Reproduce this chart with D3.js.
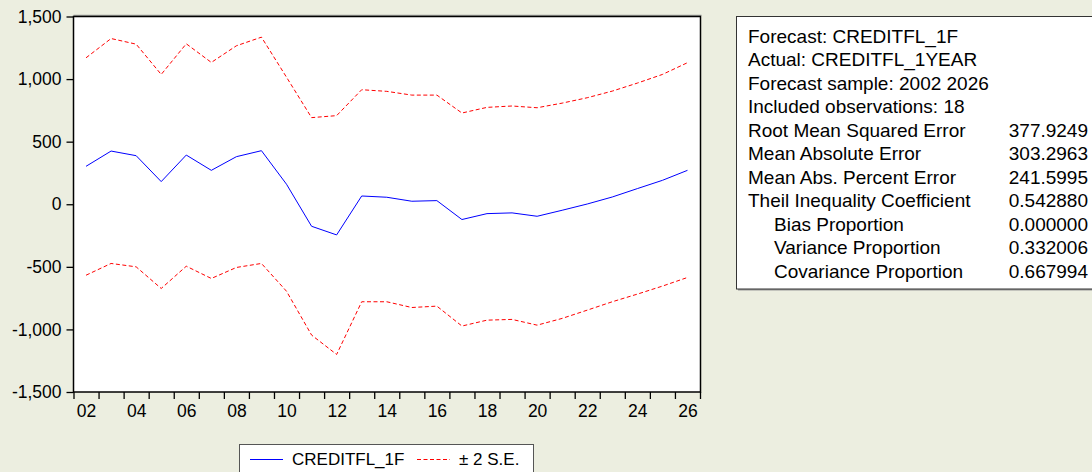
<!DOCTYPE html>
<html>
<head>
<meta charset="utf-8">
<script src="https://cdn.jsdelivr.net/npm/d3@7"></script>
<style>
  html, body { margin: 0; padding: 0; background: #ECEEE0; }
  svg { display: block; }
  text { font-family: "Liberation Sans", Arial, sans-serif; fill: #000; }
</style>
</head>
<body>
<svg id="chart" width="1092" height="472"></svg>
<script>
// ---- data ----
const years = d3.range(2002, 2027);
const forecast = [303, 425, 388, 181, 393, 271, 380, 428, 160, -176, -245, 66, 56, 24, 29, -122, -75, -69, -96, -48, 2, 58, 125, 191, 271];
const upperBand = [1170, 1324, 1279, 1037, 1282, 1133, 1266, 1335, 1015, 692, 708, 915, 902, 872, 872, 729, 774, 785, 771, 808, 851, 904, 968, 1037, 1131];
const lowerBand = [-567, -473, -500, -673, -495, -593, -505, -473, -695, -1045, -1200, -779, -779, -825, -814, -973, -926, -920, -966, -912, -846, -779, -718, -654, -585];
const yTicks = [-1500, -1000, -500, 0, 500, 1000, 1500];
const xLabelYears = d3.range(2002, 2027, 2);
const statLabels = ["Forecast: CREDITFL_1F", "Actual: CREDITFL_1YEAR", "Forecast sample: 2002 2026", "Included observations: 18",
  "Root Mean Squared Error", "Mean Absolute Error", "Mean Abs. Percent Error", "Theil Inequality Coefficient",
  "Bias Proportion", "Variance Proportion", "Covariance Proportion"];
const statValues = ["", "", "", "", "377.9249", "303.2963", "241.5995", "0.542880", "0.000000", "0.332006", "0.667994"];
const statIndent = [false, false, false, false, false, false, false, false, true, true, true];
const legendItems = [{ label: "CREDITFL_1F", color: "#0000FF", dash: null }, { label: "± 2 S.E.", color: "#FF0000", dash: "4,2.5" }];

// ---- layout ----
const svg = d3.select("#chart");
const L = 73.5, R = 700.5, T = 16.5, B = 392;

const x = d3.scaleLinear().domain([2001.5, 2026.5]).range([L, R - 0.5]);
const y = d3.scaleLinear().domain([-1500, 1500]).range([B, T]);

// plot background
svg.append("rect").attr("x", L).attr("y", T).attr("width", R - L).attr("height", B - T).attr("fill", "#fff");
svg.append("line").attr("x1", L).attr("x2", R + 1).attr("y1", T - 1.2).attr("y2", T - 1.2).attr("stroke", "#888").attr("stroke-width", 1);

// lines
const line = d3.line().x((d, i) => x(years[i])).y(d => y(d));
svg.append("path").datum(upperBand).attr("d", line).attr("fill", "none").attr("stroke", "#FF0000").attr("stroke-width", 1).attr("stroke-dasharray", "4,2.5");
svg.append("path").datum(lowerBand).attr("d", line).attr("fill", "none").attr("stroke", "#FF0000").attr("stroke-width", 1).attr("stroke-dasharray", "4,2.5");
svg.append("path").datum(forecast).attr("d", line).attr("fill", "none").attr("stroke", "#0000FF").attr("stroke-width", 1);

// frame
svg.append("rect").attr("x", L).attr("y", T).attr("width", R - L).attr("height", B - T)
  .attr("fill", "none").attr("stroke", "#000").attr("stroke-width", 1.5);

// y axis
const fmt = d3.format(",");
const yAxis = d3.axisLeft(y).tickValues(yTicks).tickSize(7).tickPadding(5).tickFormat(d => fmt(d).replace("\u2212", "-"));
const gy = svg.append("g").attr("transform", `translate(${L},0)`).call(yAxis);
gy.select(".domain").remove();
gy.selectAll(".tick line").attr("stroke", "#000").attr("stroke-width", 1.3);
gy.selectAll(".tick text").attr("font-size", "17.5px").attr("font-family", "Liberation Sans, Arial, sans-serif").attr("fill", "#000");

// x axis: ticks at year boundaries, labels centered in even years
const boundaries = d3.range(2001.5, 2027.5, 1);
const xAxisTicks = d3.axisBottom(x).tickValues(boundaries).tickSize(7).tickFormat("");
const gx = svg.append("g").attr("transform", `translate(0,${B})`).call(xAxisTicks);
gx.select(".domain").remove();
gx.selectAll(".tick line").attr("stroke", "#000").attr("stroke-width", 1.3);
const xAxisLabels = d3.axisBottom(x).tickValues(xLabelYears).tickSize(0).tickPadding(13).tickFormat(d => String(d).slice(2));
const gxl = svg.append("g").attr("transform", `translate(0,${B})`).call(xAxisLabels);
gxl.select(".domain").remove();
gxl.selectAll(".tick text").attr("font-size", "17.5px").attr("font-family", "Liberation Sans, Arial, sans-serif").attr("fill", "#000");

// stats box
const bx = 736.5, by = 16.5, bb = 289;
svg.append("rect").attr("x", bx + 1.5).attr("y", by + 1.5).attr("width", 400).attr("height", bb - by).attr("fill", "#999");
svg.append("rect").attr("x", bx).attr("y", by).attr("width", 400).attr("height", bb - by).attr("fill", "#fff").attr("stroke", "#333").attr("stroke-width", 1);
const rowY = d3.scaleLinear().domain([0, 10]).range([36, 271]);
const gs = svg.append("g");
gs.selectAll("text.lab").data(statLabels).join("text").attr("class", "lab")
  .attr("x", (d, i) => statIndent[i] ? 774 : 748).attr("y", (d, i) => rowY(i)).attr("dy", "0.36em")
  .attr("font-size", "19px").text(d => d);
gs.selectAll("text.val").data(statValues).join("text").attr("class", "val")
  .attr("x", 1088).attr("y", (d, i) => rowY(i)).attr("dy", "0.36em").attr("text-anchor", "end")
  .attr("font-size", "19px").text(d => d);

// legend
const lg = svg.append("g");
lg.append("rect").attr("x", 239.5).attr("y", 444.5).attr("width", 294).attr("height", 40).attr("fill", "#fff").attr("stroke", "#555").attr("stroke-width", 1);
const legX = [250, 417];
legendItems.forEach((it, i) => {
  lg.append("line").attr("x1", legX[i]).attr("x2", legX[i] + 33).attr("y1", 459.5).attr("y2", 459.5)
    .attr("stroke", it.color).attr("stroke-width", 1).attr("stroke-dasharray", it.dash);
  lg.append("text").attr("x", legX[i] + 42).attr("y", 459).attr("dy", "0.36em").attr("font-size", "17px").text(it.label);
});
</script>
</body>
</html>
